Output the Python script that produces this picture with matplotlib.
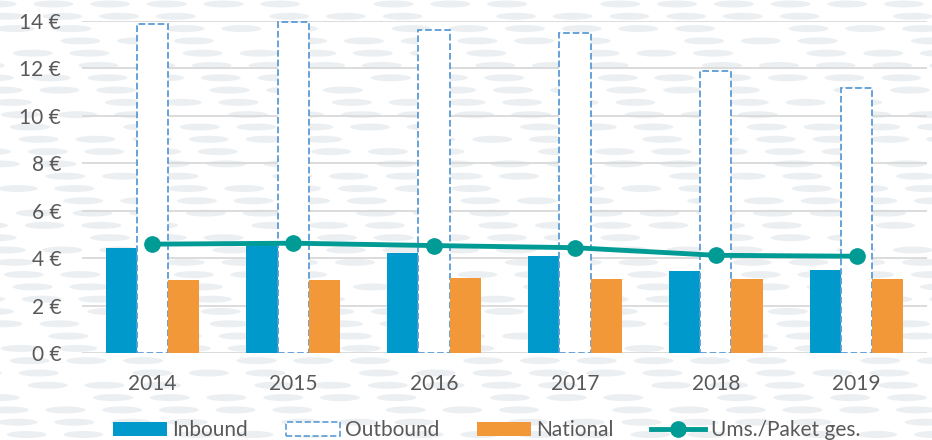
import numpy as np
import matplotlib.pyplot as plt
from matplotlib.patches import Ellipse, Patch
from matplotlib.lines import Line2D

plt.rcParams['font.family'] = ['Lato', 'DejaVu Sans']

years = ['2014', '2015', '2016', '2017', '2018', '2019']
inbound = [4.42, 4.6, 4.23, 4.09, 3.45, 3.49]
outbound = [13.87, 13.94, 13.6, 13.5, 11.9, 11.19]
national = [3.08, 3.08, 3.15, 3.12, 3.11, 3.11]
ums_paket = [4.59, 4.63, 4.53, 4.44, 4.12, 4.08]
yticks = [0, 2, 4, 6, 8, 10, 12, 14]

c_in = '#0099cc'
c_out = '#5b9bd5'
c_nat = '#f39839'
c_line = '#009b95'
c_txt = '#595959'

W, H = 932, 440
fig = plt.figure(figsize=(W / 100, H / 100), dpi=100)

# decorative background: rows of pale ellipses
for r, yp in enumerate(np.arange(4, H, 12.3)):
    off = (r * 9) % 57
    for c, xp in enumerate(np.arange(-60 + off, W + 60, 56.7)):
        if (r * 3 + c * 7) % 11 in (0, 5):
            continue
        fig.add_artist(Ellipse((xp / W, 1 - yp / H), 40 / W, 7 / H,
                               transform=fig.transFigure, color='#eceff2',
                               zorder=0, lw=0))

ax = fig.add_axes([82 / W, 1 - 353 / H, 845 / W, 332 / H])
ax.set_facecolor('none')

x = np.arange(len(years))
bw = 0.222
ax.bar(x - bw, inbound, bw, color=c_in, zorder=3)
ax.bar(x, outbound, bw, facecolor='white', edgecolor=c_out, linestyle='--',
       linewidth=1.3, zorder=3)
ax.bar(x + bw, national, bw, color=c_nat, zorder=3)
ax.plot(x, ums_paket, color=c_line, lw=3.5, marker='o', ms=11, zorder=4)

ax.set_xlim(-0.5, len(years) - 0.5)
ax.set_ylim(0, 14)
ax.set_yticks(yticks)
ax.set_yticklabels([f'{v} €' for v in yticks])
ax.set_xticks(x)
ax.set_xticklabels(years)
ax.yaxis.grid(True, color='#d9d9d9', lw=1.3, zorder=1)
ax.set_axisbelow(True)
for s in ax.spines.values():
    s.set_visible(False)
ax.tick_params(length=0, labelsize=15, labelcolor=c_txt)
ax.tick_params(axis='x', pad=15)
ax.tick_params(axis='y', pad=15)

handles = [
    Patch(facecolor=c_in, edgecolor='none', label='Inbound'),
    Patch(facecolor='white', edgecolor=c_out, linestyle='--', lw=1.2, label='Outbound'),
    Patch(facecolor=c_nat, edgecolor='none', label='National'),
    Line2D([0], [0], color=c_line, lw=3.5, marker='o', ms=11, label='Ums./Paket ges.'),
]
leg = fig.legend(handles=handles, loc='center', bbox_to_anchor=(0.522, 0.022),
                 ncol=4, frameon=False, fontsize=15, handlelength=2.6,
                 handleheight=0.6, handletextpad=0.25, columnspacing=1.8)
for t in leg.get_texts():
    t.set_color(c_txt)

fig.savefig('out.png', dpi=100)
